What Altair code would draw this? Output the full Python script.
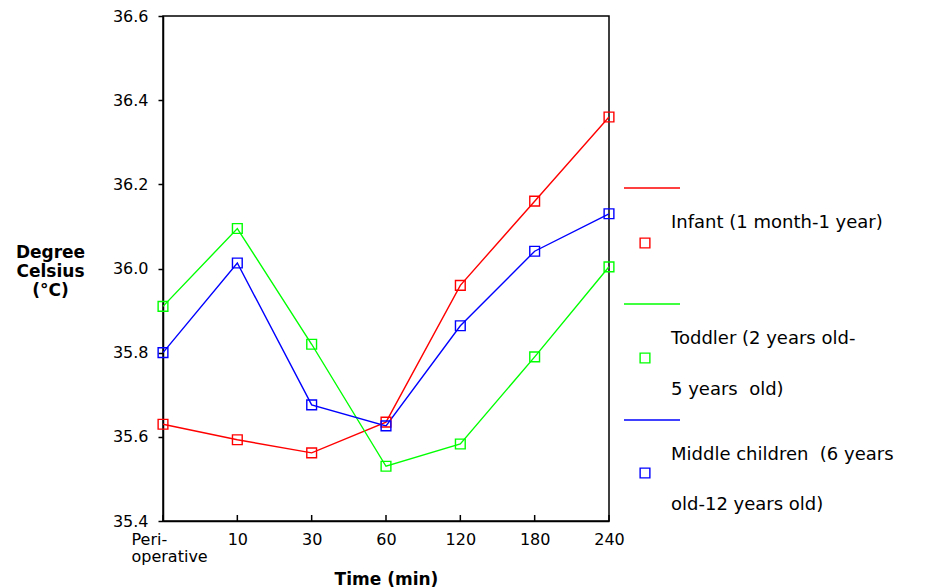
import altair as alt
import pandas as pd

times = ["Peri-operative", "10", "30", "60", "120", "180", "240"]
infant = [35.63, 35.593, 35.562, 35.635, 35.96, 36.16, 36.36]
toddler = [35.91, 36.095, 35.82, 35.53, 35.583, 35.79, 36.004]
middle = [35.80, 36.013, 35.676, 35.626, 35.864, 36.041, 36.13]
groups = ["Infant", "Toddler", "Middle"]
colors = ["#ff0000", "#00ff00", "#0000ff"]
legend_text = [
    ["Infant (1 month-1 year)"],
    ["Toddler (2 years old-", "5 years\u00a0 old)"],
    ["Middle children\u00a0 (6 years", "old-12 years old)"],
]
y_ticks = [35.4, 35.6, 35.8, 36.0, 36.2, 36.4, 36.6]

FONT = "DejaVu Sans"
W, H = 446, 505

rows = []
for g, vals in zip(groups, [infant, toddler, middle]):
    for i, (t, v) in enumerate(zip(times, vals)):
        rows.append({"group": g, "time": t, "order": i, "temp": v})
df = pd.DataFrame(rows)

x_enc = alt.X("time:N", sort=times, scale=alt.Scale(type="point", padding=0),
              axis=alt.Axis(title="Time (min)", ticks=False, tickSize=0, labelPadding=10,
                            labelAngle=0, labelFont=FONT, labelFontSize=16, labelColor="black",
                            labelExpr="datum.value == 'Peri-operative' ? ['Peri-', 'operative'] : datum.label",
                            labelAlign=alt.ExprRef(expr="datum.value == 'Peri-operative' ? 'left' : 'center'"),
                            labelOffset=alt.ExprRef(expr="datum.value == 'Peri-operative' ? -32 : 0"),
                            labelLineHeight=17,
                            domainColor="black", domainWidth=1.5,
                            titleFont=FONT, titleFontSize=17, titleFontWeight="bold", titleColor="black",
                            titleY=58, titleBaseline="middle", grid=False))
y_enc = alt.Y("temp:Q", scale=alt.Scale(domain=[35.4, 36.6], nice=False, zero=False),
              axis=alt.Axis(values=y_ticks, format=".1f", tickSize=5, tickColor="black", tickWidth=1.5,
                            labelPadding=10, labelFont=FONT, labelFontSize=16, labelColor="black",
                            domainColor="black", domainWidth=1.5, grid=False,
                            title=["Degree", "Celsius", "(°C)"], titleAngle=0, titleAlign="center",
                            titleBaseline="middle", titleX=-113, titleY=236, titleLineHeight=19,
                            titleFont=FONT, titleFontSize=17, titleFontWeight="bold", titleColor="black"))
color_enc = alt.Color("group:N", scale=alt.Scale(domain=groups, range=colors), legend=None)
x_plain = alt.X("time:N", sort=times)

lines = alt.Chart(df).mark_line(strokeWidth=1.4).encode(x=x_enc, y=y_enc, color=color_enc,
                                                         order="order:Q", detail="group:N")
points = alt.Chart(df).mark_point(shape="square", filled=False, size=95, strokeWidth=1.4,
                                  opacity=1).encode(x=x_plain, y="temp:Q", color=color_enc)

tick_df = pd.DataFrame({"time": times})
xticks = alt.Chart(tick_df).mark_rule(color="black", strokeWidth=1.5).encode(
    x=x_plain, y=alt.value(H), y2=alt.value(H - 6))

layers = [lines, xticks, points]

# custom legend
line_y = [172, 288, 404]
sq_y = [227, 342, 457]
text_y = [[207], [323, 374], [439, 489]]
for g, c, ly, sy, tl, ty in zip(groups, colors, line_y, sq_y, legend_text, text_y):
    ldf = pd.DataFrame({"group": [g]})
    layers.append(alt.Chart(ldf).mark_rule(color=c, strokeWidth=1.4).encode(
        x=alt.value(461), x2=alt.value(517), y=alt.value(ly)))
    layers.append(alt.Chart(ldf).mark_point(shape="square", filled=False, size=95, strokeWidth=1.4,
                                            opacity=1, color=c).encode(x=alt.value(482), y=alt.value(sy)))
    for line, yy in zip(tl, ty):
        tdf = pd.DataFrame({"label": [line]})
        layers.append(alt.Chart(tdf).mark_text(align="left", baseline="middle", font=FONT,
                                               fontSize=18, color="black").encode(
            text="label:N", x=alt.value(508), y=alt.value(yy)))

chart = alt.layer(*layers).properties(
    width=W, height=H,
    autosize=alt.AutoSizeParams(type="none"),
    padding={"left": 163, "top": 16, "right": 324, "bottom": 67},
    background="white",
).configure_view(stroke="black", strokeWidth=1.5)

chart.save("out.html", embed_options={"renderer": "svg", "actions": False})
